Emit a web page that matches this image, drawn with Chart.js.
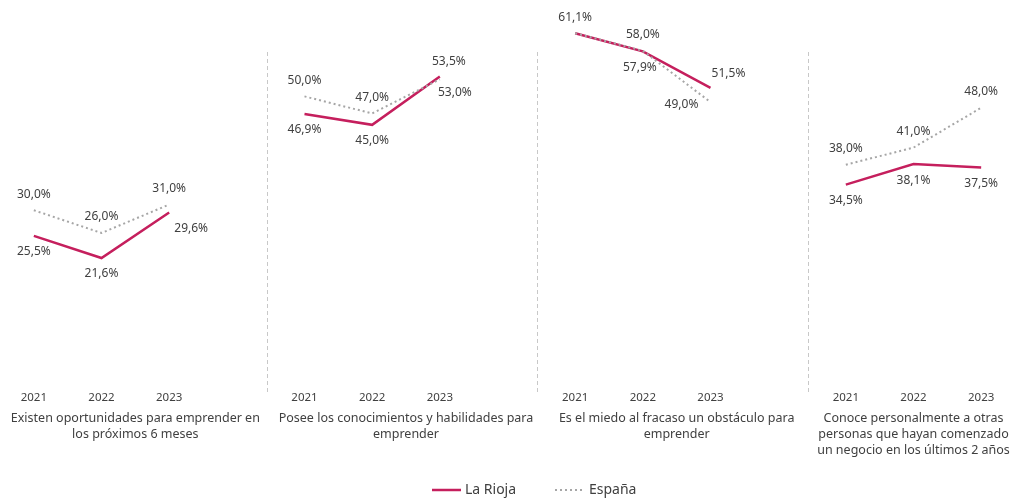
<!DOCTYPE html>
<html>
<head>
<meta charset="utf-8">
<script src="https://cdn.jsdelivr.net/npm/chart.js@4.4.1/dist/chart.umd.min.js"></script>
<style>
  html, body { margin: 0; padding: 0; background: #fff; }
  #wrap { width: 1015px; height: 500px; position: relative; }
</style>
</head>
<body>
<div id="wrap"><canvas id="chart"></canvas></div>
<script>
// 4 groups of 3 years, empty slot between groups
const categories = ['2021', '2022', '2023', '', '2021', '2022', '2023', '', '2021', '2022', '2023', '', '2021', '2022', '2023'];
const laRioja = [25.5, 21.6, 29.6, null, 46.9, 45.0, 53.5, null, 61.1, 57.9, 51.5, null, 34.5, 38.1, 37.5];
const espana  = [30.0, 26.0, 31.0, null, 50.0, 47.0, 53.0, null, 61.1, 58.0, 49.0, null, 38.0, 41.0, 48.0];
const groupTitles = [
  ['Existen oportunidades para emprender en', 'los próximos 6 meses'],
  ['Posee los conocimientos y habilidades para', 'emprender'],
  ['Es el miedo al fracaso un obstáculo para', 'emprender'],
  ['Conoce personalmente a otras', 'personas que hayan comenzado', 'un negocio en los últimos 2 años']
];
const seriesNames = ['La Rioja', 'España'];

// label nudges where the labels were moved by hand (index -> [dx, dy]); null = hidden
const nudgeLR = { 2: [22, 16], 6: [9, -15], 9: [-3, 16], 10: [18, -14] };
const nudgeES = { 6: [15, 13], 8: null, 10: [-29, 3] };

const RED = '#C51F5D';
const GREY = '#A6A6A6';
const TEXT = '#404040';
const FONT = '"Noto Sans", sans-serif';

const fmt = v => v.toFixed(1).replace('.', ',') + '%';

const decorPlugin = {
  id: 'decor',
  afterDatasetsDraw(chart) {
    const ctx = chart.ctx;
    const x = chart.scales.x, y = chart.scales.y;
    const slot = x.width / categories.length;
    ctx.save();

    // value labels
    ctx.font = '12px ' + FONT;
    ctx.fillStyle = TEXT;
    ctx.textAlign = 'center';
    ctx.textBaseline = 'middle';
    const drawLabels = (vals, other, nudges) => {
      vals.forEach((v, i) => {
        if (v == null) return;
        let d;
        if (i in nudges) {
          d = nudges[i];
          if (d === null) return;
        } else {
          d = [0, v >= other[i] ? -16 : 16];
        }
        ctx.fillText(fmt(v), x.getPixelForValue(i) + d[0], y.getPixelForValue(v) + d[1]);
      });
    };
    drawLabels(laRioja, espana, nudgeLR);
    drawLabels(espana, laRioja, nudgeES);

    // separators between groups and group titles
    const groups = [];
    let start = 0;
    categories.forEach((c, i) => {
      if (c === '') { groups.push([start, i - 1]); start = i + 1; }
    });
    groups.push([start, categories.length - 1]);

    ctx.strokeStyle = '#C8C8C8';
    ctx.lineWidth = 1;
    ctx.setLineDash([4, 3]);
    categories.forEach((c, i) => {
      if (c !== '') return;
      const px = Math.round((x.getPixelForValue(i) + x.getPixelForValue(i + 1)) / 2) - 3.5;
      ctx.beginPath();
      ctx.moveTo(px, 52);
      ctx.lineTo(px, 395);
      ctx.stroke();
    });
    ctx.setLineDash([]);

    ctx.font = '12.5px ' + FONT;
    groups.forEach((g, gi) => {
      const left = x.getPixelForValue(g[0]) - slot / 2;
      const right = gi === groups.length - 1 ? x.right : x.getPixelForValue(g[1] + 1) + slot / 2;
      const cx = (left + right) / 2;
      groupTitles[gi].forEach((line, li) => ctx.fillText(line, cx, 418 + li * 16));
    });

    // legend
    const ly = 490;
    ctx.lineWidth = 2.5;
    ctx.strokeStyle = RED;
    ctx.beginPath(); ctx.moveTo(432, ly); ctx.lineTo(461, ly); ctx.stroke();
    ctx.lineWidth = 2;
    ctx.strokeStyle = GREY;
    ctx.setLineDash([2, 3]);
    ctx.beginPath(); ctx.moveTo(555, ly); ctx.lineTo(583, ly); ctx.stroke();
    ctx.setLineDash([]);
    ctx.textAlign = 'left';
    ctx.font = '14px ' + FONT;
    ctx.fillText(seriesNames[0], 465, ly);
    ctx.fillText(seriesNames[1], 589, ly);
    ctx.restore();
  }
};

new Chart(document.getElementById('chart'), {
  type: 'line',
  data: {
    labels: categories,
    datasets: [
      { label: seriesNames[0], data: laRioja, borderColor: RED, borderWidth: 2.5, pointRadius: 0, tension: 0, order: 1, spanGaps: false },
      { label: seriesNames[1], data: espana, borderColor: GREY, borderWidth: 2, borderDash: [2, 3], pointRadius: 0, tension: 0, order: 0, spanGaps: false }
    ]
  },
  options: {
    responsive: true,
    maintainAspectRatio: false,
    animation: false,
    layout: { padding: { top: 11, left: 0, right: 0, bottom: 0 } },
    plugins: { legend: { display: false }, tooltip: { enabled: false } },
    scales: {
      x: {
        offset: true,
        grid: { display: false },
        border: { display: false },
        ticks: { color: TEXT, font: { family: FONT, size: 11.5 }, padding: 2, maxRotation: 0, autoSkip: false },
        afterFit: s => { s.height = 119; }
      },
      y: { display: false, min: 0, max: 65 }
    }
  },
  plugins: [decorPlugin]
});
</script>
</body>
</html>
